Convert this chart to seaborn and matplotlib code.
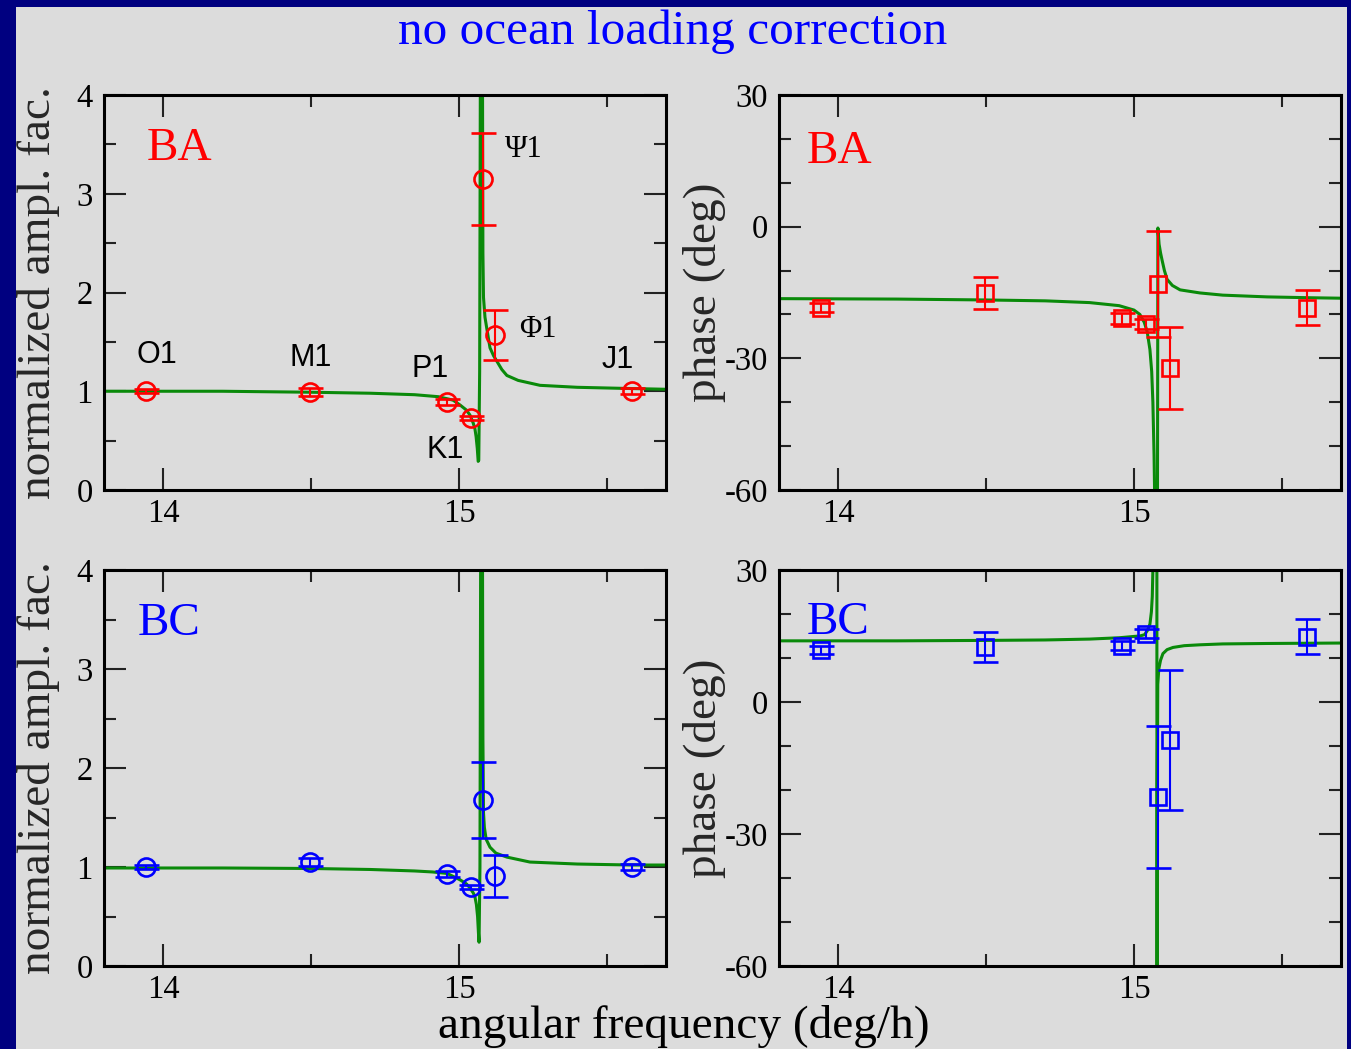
import matplotlib
matplotlib.use("Agg")
import matplotlib.pyplot as plt
from matplotlib.patches import Rectangle
from matplotlib.ticker import MultipleLocator, FuncFormatter
import seaborn as sns

# ---------------- data ----------------
tides = ["O1", "M1", "P1", "K1", "Ψ1", "Φ1", "J1"]
freq = [13.943, 14.497, 14.959, 15.041, 15.082, 15.123, 15.585]

ba_amp = [1.00, 0.99, 0.89, 0.73, 3.15, 1.57, 1.00]
ba_amp_err = [0.02, 0.04, 0.03, 0.02, 0.465, 0.25, 0.03]
bc_amp = [1.00, 1.05, 0.93, 0.80, 1.68, 0.91, 1.00]
bc_amp_err = [0.02, 0.04, 0.03, 0.02, 0.385, 0.21, 0.03]

ba_phase = [-18.5, -15.1, -20.9, -22.2, -13.1, -32.2, -18.5]
ba_phase_err = [1.0, 3.6, 1.2, 1.2, 12.0, 9.3, 4.0]
bc_phase = [11.8, 12.5, 12.8, 15.5, -21.6, -8.7, 14.8]
bc_phase_err = [1.0, 3.4, 1.0, 1.0, 16.2, 15.9, 4.0]

# fitted resonance curves
ba_curve_f = [13.80, 14.20, 14.50, 14.70, 14.85, 14.93, 14.98, 15.004, 15.025, 15.037,
              15.048, 15.054, 15.058, 15.062, 15.065, 15.067, 15.070, 15.073, 15.079,
              15.081, 15.083, 15.088, 15.095, 15.105, 15.117, 15.129, 15.145, 15.162,
              15.20, 15.274, 15.40, 15.544, 15.70]
ba_curve_amp = [1.00, 1.00, 0.99, 0.98, 0.965, 0.945, 0.91, 0.86, 0.81, 0.76,
                0.68, 0.62, 0.54, 0.42, 0.29, 0.30, 1.20, 5.0, 5.0,
                2.4, 1.95, 1.75, 1.62, 1.44, 1.36, 1.30, 1.22, 1.16,
                1.11, 1.06, 1.04, 1.03, 1.02]

bc_curve_f = [13.80, 14.20, 14.50, 14.70, 14.85, 14.91, 14.96, 15.004, 15.025, 15.037,
              15.048, 15.054, 15.059, 15.063, 15.066, 15.068, 15.071, 15.074, 15.079,
              15.081, 15.083, 15.086, 15.092, 15.105, 15.125, 15.162, 15.24, 15.40,
              15.585, 15.70]
bc_curve_amp = [0.99, 0.99, 0.985, 0.975, 0.96, 0.95, 0.935, 0.87, 0.83, 0.79,
                0.74, 0.70, 0.62, 0.50, 0.33, 0.24, 1.0, 5.0, 5.0,
                2.3, 1.55, 1.40, 1.28, 1.20, 1.14, 1.10, 1.05, 1.03,
                1.02, 1.02]

ba_curve_pf = [13.80, 14.20, 14.50, 14.70, 14.85, 14.95, 15.00, 15.02, 15.035, 15.045,
               15.054, 15.060, 15.064, 15.068, 15.071, 15.074, 15.079, 15.081, 15.085,
               15.090, 15.095, 15.103, 15.112, 15.13, 15.156, 15.223, 15.30, 15.45,
               15.60, 15.70]
ba_curve_phase = [-16.4, -16.5, -16.7, -16.9, -17.3, -18.0, -19.0, -20.0, -21.8, -24.0,
                  -28.0, -33.0, -40.0, -52.0, -66.0, -85.0, -85.0, -0.3, -4.0,
                  -6.0, -7.6, -10.0, -12.0, -13.4, -14.4, -15.1, -15.6, -16.0,
                  -16.2, -16.3]

bc_curve_pf = [13.80, 14.20, 14.50, 14.70, 14.85, 14.95, 15.00, 15.02, 15.036, 15.046,
               15.054, 15.059, 15.062, 15.064, 15.067, 15.075, 15.0775, 15.0778, 15.0782,
               15.0790, 15.0805, 15.084, 15.090, 15.098, 15.112, 15.132, 15.17, 15.223,
               15.30, 15.45, 15.70]
bc_curve_phase = [13.9, 13.9, 14.0, 14.1, 14.3, 14.6, 14.9, 15.0, 15.3, 16.3,
                  17.7, 20.5, 24.0, 30.0, 45.0, 60.0, 60.0, -90.0, -90.0,
                  -20.0, 4.0, 7.5, 9.5, 11.0, 11.9, 12.4, 12.8, 13.0,
                  13.2, 13.3, 13.4]

# label anchor positions (data coords, baseline)
tide_label_x = [13.979, 14.500, 14.902, 14.953, 15.220, 15.267, 15.538]
tide_label_y = [1.286, 1.256, 1.144, 0.324, 3.372, 1.549, 1.235]

# ---------------- style ----------------
sns.set_theme(style="ticks")
plt.rcParams["font.family"] = ["Liberation Serif", "DejaVu Serif"]
plt.rcParams["axes.unicode_minus"] = False

W, H = 1351, 1049
GRAY = "#dcdcdc"
NAVY = "#000080"
GREEN = "#0a8a0a"
RED = "#ff0000"
BLUE = "#0000ff"

fig = plt.figure(figsize=(W / 100, H / 100), dpi=100, facecolor=NAVY)
bg = Rectangle((16 / W, 0), (1347 - 16) / W, (H - 7) / H, transform=fig.transFigure,
               facecolor=GRAY, edgecolor="none", zorder=-10)
fig.add_artist(bg)


def px_axes(l, t, r, b):
    return fig.add_axes([l / W, 1 - b / H, (r - l) / W, (b - t) / H])


ax_ba_a = px_axes(104, 95, 666, 490)
ax_ba_p = px_axes(779, 95, 1341, 490)
ax_bc_a = px_axes(104, 570, 666, 966)
ax_bc_p = px_axes(779, 570, 1341, 966)

fmt = FuncFormatter(lambda v, p: f"{v:g}")


def style_axes(ax, kind):
    ax.set_facecolor(GRAY)
    ax.set_xlim(13.8, 15.7)
    ax.xaxis.set_major_locator(MultipleLocator(1))
    ax.xaxis.set_minor_locator(MultipleLocator(0.5))
    if kind == "amp":
        ax.set_ylim(0, 4)
        ax.yaxis.set_major_locator(MultipleLocator(1))
        ax.yaxis.set_minor_locator(MultipleLocator(0.5))
    else:
        ax.set_ylim(-60, 30)
        ax.yaxis.set_major_locator(MultipleLocator(30))
        ax.yaxis.set_minor_locator(MultipleLocator(10))
    ax.xaxis.set_major_formatter(fmt)
    ax.yaxis.set_major_formatter(fmt)
    ax.tick_params(which="both", direction="in", top=True, right=True,
                   width=1.5, color="#222222", labelsize=23.5,
                   labelcolor="black")
    ax.tick_params(axis="y", pad=8)
    ax.tick_params(axis="x", pad=6)
    ax.tick_params(which="major", length=16)
    ax.tick_params(which="minor", length=8.5)
    for s in ax.spines.values():
        s.set_linewidth(2.2)
        s.set_color("black")
        s.set_visible(True)
    ax.set_xlabel("")


def draw(ax, cf, cy, vals, errs, color, marker, ms):
    sns.lineplot(x=cf, y=cy, ax=ax, color=GREEN, linewidth=2.2,
                 estimator=None, sort=False, legend=False, zorder=2)
    ax.errorbar(freq, vals, yerr=errs, fmt=marker, ms=ms, mfc="none", mec=color,
                mew=1.9, ecolor=color, elinewidth=1.5, capsize=9, capthick=1.5,
                zorder=3)


draw(ax_ba_a, ba_curve_f, ba_curve_amp, ba_amp, ba_amp_err, RED, "o", 13)
draw(ax_bc_a, bc_curve_f, bc_curve_amp, bc_amp, bc_amp_err, BLUE, "o", 13)
draw(ax_ba_p, ba_curve_pf, ba_curve_phase, ba_phase, ba_phase_err, RED, "s", 11)
draw(ax_bc_p, bc_curve_pf, bc_curve_phase, bc_phase, bc_phase_err, BLUE, "s", 11)

for ax, kind in [(ax_ba_a, "amp"), (ax_bc_a, "amp"), (ax_ba_p, "ph"), (ax_bc_p, "ph")]:
    style_axes(ax, kind)
    if kind == "amp":
        ax.set_ylabel("normalized ampl. fac.", fontsize=34, va="baseline")
        ax.yaxis.set_label_coords((50 - 104) / 562, 0.5)
    else:
        ax.set_ylabel("phase (deg)", fontsize=34, va="baseline")
        ax.yaxis.set_label_coords((716 - 779) / 562, 0.5)

# tidal constituent labels
for name, lx, ly in zip(tides, tide_label_x, tide_label_y):
    fam = ["Liberation Serif"] if name in ("Ψ1", "Φ1") else ["Liberation Sans"]
    ax_ba_a.text(lx, ly, name, fontsize=22, ha="center", va="baseline",
                 family=fam, color="black")

# panel labels
ax_ba_a.text(0.0765, 0.835, "BA", transform=ax_ba_a.transAxes, color=RED,
             fontsize=34, ha="left", va="baseline")
ax_bc_a.text(0.0605, 0.836, "BC", transform=ax_bc_a.transAxes, color=BLUE,
             fontsize=34, ha="left", va="baseline")
ax_ba_p.text(0.0498, 0.828, "BA", transform=ax_ba_p.transAxes, color=RED,
             fontsize=34, ha="left", va="baseline")
ax_bc_p.text(0.0498, 0.838, "BC", transform=ax_bc_p.transAxes, color=BLUE,
             fontsize=34, ha="left", va="baseline")

fig.text(673 / W, 1 - 44 / H, "no ocean loading correction", color=BLUE,
         fontsize=35.5, ha="center", va="baseline")
fig.text(684 / W, 1 - 1038 / H, "angular frequency (deg/h)", color="black",
         fontsize=34, ha="center", va="baseline")

fig.savefig("out.png", dpi=100, facecolor=NAVY)
